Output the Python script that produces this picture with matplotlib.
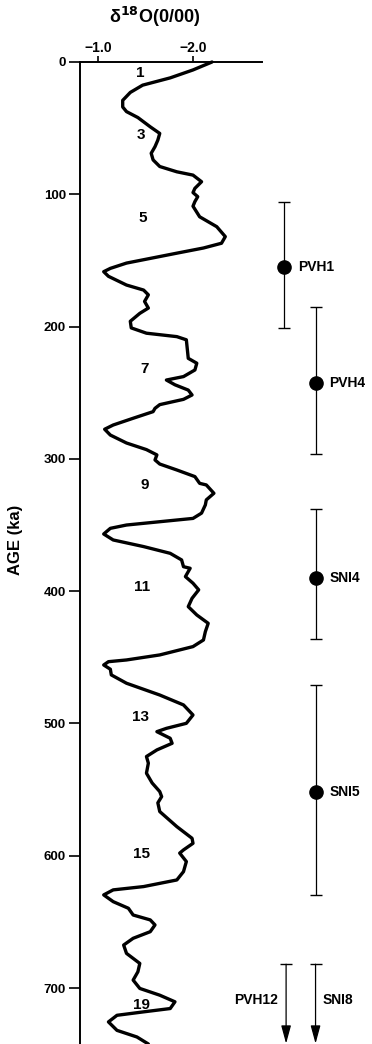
import matplotlib
matplotlib.use("Agg")
import matplotlib.pyplot as plt
from matplotlib import font_manager

# ---------------- data ----------------
age = [0, 6, 12, 17.5, 23, 29, 34, 37.5, 42, 49, 54, 59, 64, 69, 74, 79, 83, 85.5,
       90.5, 95.5, 98.7, 101.8, 105.5, 109, 117, 124.5, 132, 137, 140.6, 144.5,
       148.5, 152, 156, 158.5, 162, 168.6, 172.4, 176, 181, 186, 190, 196, 201,
       205, 207.6, 210, 217, 224, 227.7, 232.8, 237.8, 240.4, 244, 248, 251.7,
       255, 259, 261.8, 264.3, 269.3, 274.4, 277.6, 282, 288, 293, 297, 300.8,
       303.9, 308.4, 313.4, 318.5, 319.7, 326, 331, 334.8, 341, 345, 347.5, 350,
       352.5, 356.8, 361.3, 366.3, 371.4, 376.4, 381.5, 382.7, 389, 394, 399,
       405.4, 411.7, 418, 424.3, 430.6, 436.9, 441.9, 448.2, 452, 453.3, 455.8,
       459, 463.3, 469.6, 478.5, 486, 493.6, 499.9, 503.7, 506.2, 511.2, 515,
       520, 525, 530, 537.6, 545, 551.5, 555.3, 560, 566.6, 578, 586.8, 590.6,
       595.6, 598, 604.4, 612, 618.3, 623.3, 625.8, 629.6, 634.7, 639.7, 644.8,
       648.5, 652.3, 657.4, 662.4, 667.5, 673.8, 681.4, 687.7, 694, 700.3,
       705.4, 710.4, 715.5, 718, 720.6, 725.6, 732, 737, 742.3]
d18o = [-2.20, -2.00, -1.76, -1.47, -1.34, -1.26, -1.26, -1.30, -1.42, -1.55,
        -1.65, -1.63, -1.60, -1.56, -1.58, -1.65, -1.83, -2.00, -2.09, -2.02,
        -2.00, -2.05, -2.02, -2.00, -2.07, -2.25, -2.34, -2.30, -2.11, -1.83,
        -1.55, -1.30, -1.13, -1.06, -1.11, -1.30, -1.48, -1.53, -1.49, -1.53,
        -1.44, -1.34, -1.35, -1.51, -1.83, -1.93, -1.94, -1.95, -2.04, -2.02,
        -1.90, -1.72, -1.81, -1.95, -1.99, -1.90, -1.65, -1.60, -1.58, -1.37,
        -1.16, -1.07, -1.13, -1.30, -1.51, -1.62, -1.60, -1.65, -1.83, -2.02,
        -2.07, -2.14, -2.22, -2.14, -2.13, -2.09, -2.00, -1.65, -1.30, -1.13,
        -1.06, -1.16, -1.48, -1.76, -1.88, -1.90, -1.97, -1.92, -2.00, -2.06,
        -1.99, -1.95, -2.04, -2.16, -2.13, -2.11, -2.00, -1.65, -1.30, -1.11,
        -1.06, -1.13, -1.14, -1.30, -1.65, -1.90, -2.00, -1.93, -1.72, -1.62,
        -1.76, -1.78, -1.62, -1.51, -1.53, -1.51, -1.57, -1.65, -1.67, -1.63,
        -1.65, -1.83, -1.99, -2.00, -1.90, -1.86, -1.93, -1.90, -1.83, -1.48,
        -1.16, -1.06, -1.16, -1.32, -1.37, -1.55, -1.60, -1.55, -1.37, -1.27,
        -1.30, -1.44, -1.42, -1.37, -1.44, -1.65, -1.81, -1.76, -1.48, -1.20,
        -1.11, -1.20, -1.41, -1.53]

stage_labels = ["1", "3", "5", "7", "9", "11", "13", "15", "19"]
stage_ages = [8.3, 55, 118, 232, 320, 397, 495, 598.6, 713]
stage_x = [-1.44, -1.45, -1.47, -1.49, -1.49, -1.46, -1.45, -1.46, -1.46]

sample_names = ["PVH1", "PVH4", "SNI4", "SNI5"]
sample_age = [155, 243, 390, 552]
sample_lo = [106, 185, 338, 471]
sample_hi = [201, 296, 436, 630]
sample_x = [-2.96, -3.29, -3.29, -3.29]

min_names = ["PVH12", "SNI8"]
min_age = [682, 682]
min_x = [-2.98, -3.29]

xticks = [-1.0, -2.0]
xtick_labels = ["\u22121.0", "\u22122.0"]
yticks = [0, 100, 200, 300, 400, 500, 600, 700]

# ---------------- fonts ----------------
names = {f.name for f in font_manager.fontManager.ttflist}
cond = "Liberation Sans Narrow" if "Liberation Sans Narrow" in names else "Liberation Sans"
plt.rcParams["font.family"] = [cond, "DejaVu Sans"]
plt.rcParams["font.weight"] = "bold"
plt.rcParams["mathtext.fontset"] = "dejavusans"
SANS = ["Liberation Sans", "DejaVu Sans"]

W, H = 372, 1044
fig = plt.figure(figsize=(W / 100, H / 100), dpi=100)
ax = fig.add_axes([80 / W, 0, (W - 80) / W, (H - 62) / H])

x_left = -1.0 + (98 - 80) / 95
x_right = -1.0 - (W - 98) / 95
x_spine_end = -1.0 - (262 - 98) / 95
ax.set_xlim(x_left, x_right)
ax.set_ylim(742.3, 0)

ax.plot(d18o, age, color="black", lw=2.4, solid_joinstyle="round",
        solid_capstyle="round", clip_on=False)

for lab, a, xv in zip(stage_labels, stage_ages, stage_x):
    ax.text(xv, a, lab, ha="center", va="center", fontsize=11,
            fontweight="bold", family=SANS)

# error bars
for n, a, lo, hi, xv in zip(sample_names, sample_age, sample_lo, sample_hi, sample_x):
    ax.errorbar([xv], [a], yerr=[[a - lo], [hi - a]], fmt="o", color="black",
                ms=9.5, elinewidth=0.9, capsize=4.5, capthick=1.0, clip_on=False)
    ax.annotate(n, (xv, a), xytext=(10, 0), textcoords="offset points",
                ha="left", va="center", fontsize=10, fontweight="bold",
                family=SANS)

# minimum ages (arrows)
for i, (n, a, xv) in enumerate(zip(min_names, min_age, min_x)):
    ax.plot([xv], [a], marker="_", ms=9, mew=1.0, color="black", clip_on=False)
    ax.annotate("", xy=(xv, 742.0), xytext=(xv, a),
                arrowprops=dict(arrowstyle="-|>,head_length=1.1,head_width=0.3",
                                color="black", lw=0.9, shrinkA=0, shrinkB=0,
                                mutation_scale=10))
    if i == 0:
        ax.annotate(n, (xv, 709), xytext=(-6, 0), textcoords="offset points",
                    ha="right", va="center", fontsize=10, fontweight="bold",
                    family=SANS)
    else:
        ax.annotate(n, (xv, 709), xytext=(5, 0), textcoords="offset points",
                    ha="left", va="center", fontsize=10, fontweight="bold",
                    family=SANS)

# spines & ticks
ax.spines["right"].set_visible(False)
ax.spines["bottom"].set_visible(False)
ax.spines["top"].set_bounds(x_left, x_spine_end)
ax.spines["top"].set_linewidth(1.4)
ax.spines["left"].set_linewidth(1.4)

ax.xaxis.tick_top()
ax.set_xticks(xticks)
ax.set_xticklabels(xtick_labels)
ax.tick_params(axis="x", direction="out", length=4, width=1.2, pad=1,
               labelsize=10)
ax.set_yticks(yticks)
ax.tick_params(axis="y", direction="out", length=8, width=1.2, pad=2,
               labelsize=9.5)

ax.xaxis.set_label_position("top")
ax.set_xlabel("\u03b4$^{\\mathbf{18}}$O(0/00)", fontsize=13, fontweight="bold",
              family=SANS)
ax.xaxis.set_label_coords((155 - 80) / (W - 80), 1 + (62 - 23) / (H - 62))
ax.set_ylabel("AGE (ka)", fontsize=12, fontweight="bold", family=SANS)
ax.yaxis.set_label_coords((23 - 80) / (W - 80), (H - 540) / (H - 62))

fig.savefig("out.png", dpi=100)
